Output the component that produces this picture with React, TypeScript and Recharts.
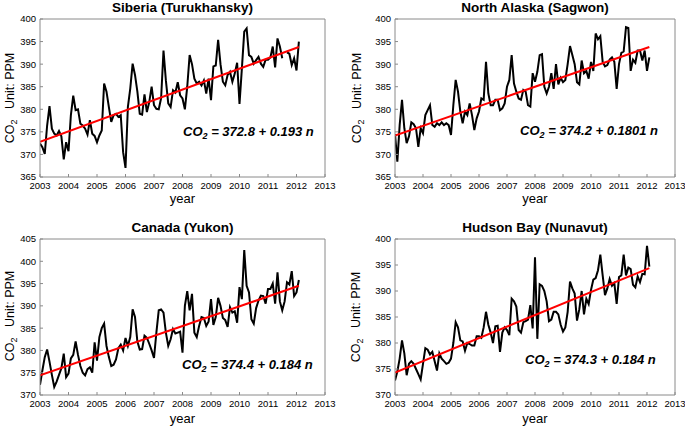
import React from 'react';
import { LineChart, Line, XAxis, YAxis } from 'recharts';

// monthly CO2 (ppm), Jan 2003 .. Feb 2012
const startYear = 2003;
const yearTicks = [2003, 2004, 2005, 2006, 2007, 2008, 2009, 2010, 2011, 2012, 2013];

const siberiaCO2 = [
  372.4, 371.6, 370.1, 376.4, 380.7, 375.7, 374.6, 374.2, 375.2, 374.0, 368.9, 372.7,
  370.7, 378.7, 383.0, 379.8, 380.0, 376.8, 376.4, 375.7, 374.4, 377.6, 374.6, 374.1,
  372.7, 374.2, 375.3, 385.7, 383.9, 380.5, 377.2, 378.7, 379.0, 378.3, 378.7, 370.5,
  367.0, 380.5, 384.6, 390.1, 387.6, 383.9, 379.0, 378.8, 383.3, 379.4, 381.6, 385.0,
  380.9, 380.1, 380.0, 382.5, 393.0, 386.4, 381.3, 380.5, 384.2, 383.7, 386.0, 383.1,
  382.4, 380.0, 385.0, 392.0, 390.0, 386.8, 385.7, 386.1, 385.3, 386.4, 383.5, 386.8,
  382.0, 389.5, 389.7, 395.4, 390.0, 386.1, 385.3, 387.6, 388.3, 386.1, 387.9, 390.3,
  381.2, 389.0, 397.2, 397.9, 392.0, 391.6, 390.1, 390.9, 391.6, 390.1, 389.4, 391.0,
  391.0, 391.5, 393.9, 389.3, 395.7, 393.9, 391.3, null, 392.6, 392.3, 389.8, 391.3,
  388.6, 395.0,
];

const alaskaCO2 = [
  374.5, 368.4, 376.5, 382.1, 375.8, 372.5, 374.0, 377.1, 376.7, 375.8, 371.7, 375.8,
  374.7, 378.7, 379.8, 380.9, 376.5, 376.1, 376.9, 376.5, 377.1, 376.5, 376.9, 376.5,
  374.3, 380.9, 386.5, 383.9, 379.5, 376.9, 379.5, 378.7, 381.3, 378.7, 375.4, 378.0,
  379.5, 382.4, 382.1, 390.5, 383.5, 380.9, 380.9, 382.1, 382.1, 379.8, 380.2, 381.3,
  385.0, 386.5, 392.0, 385.7, 383.9, 382.4, 382.1, 384.3, 383.9, 380.9, 380.6, 388.0,
  386.1, 388.3, 392.0, 392.2, 385.0, 383.5, 385.0, 388.0, 384.5, 390.0, 385.5, 387.0,
  386.0, 386.5, 390.0, 394.0, 392.0, 390.0, 386.0, 385.5, 390.8, 388.0, 388.5, 386.8,
  390.5, 388.5, 396.8, 395.5, 396.2, 390.5, 389.5, 389.8, 391.0, 391.5, 390.5, 384.5,
  390.0, 392.5, 392.8, 398.2, 398.0, 388.5, 391.0, 390.3, 393.0, 393.0, 390.8, 393.0,
  388.5, 391.5,
];

const canadaCO2 = [
  372.3, 375.5, 378.5, 380.2, 377.5, 374.5, 371.8, 373.0, 374.5, 376.0, 379.3, 374.0,
  374.8, 378.2, 379.0, 382.0, 379.0, 376.5, 375.0, 374.4, 375.8, 376.2, 375.0, 381.8,
  377.7, 383.0, 385.0, 386.0, 381.0, 378.5, 376.5, 376.8, 378.0, 380.5, 381.3, 380.0,
  382.8, 381.0, 383.0, 389.2, 387.5, 382.0, 380.2, 380.3, 383.3, 382.8, 381.5, 380.0,
  378.3, 384.0, 389.0, 389.2, 388.5, 384.0, 381.0, 382.5, 384.8, 383.8, 384.0, 384.2,
  379.5, 390.0, 393.3, 389.0, 392.7, 384.0, 383.0, 385.5, 387.5, 387.3, 385.5, 386.5,
  391.5, 385.7, 387.5, 391.8, 390.0, 387.3, 386.8, 385.3, 389.7, 388.5, 388.8, 386.2,
  394.2, 391.5, 402.5, 394.5, 393.0, 387.0, 386.0, 389.5, 391.2, 392.3, 392.2, 390.5,
  393.8, 393.8, 395.0, 390.5, 397.5, 391.0, 389.0, 391.0, 395.3, 394.8, 397.8, 392.2,
  393.0, 395.8,
];

const hudsonCO2 = [
  372.8, 374.5, 377.0, 380.5, 378.0, 373.8, 376.0, 376.5, 376.0, 375.0, 374.0, 373.0,
  376.0, 379.0, 378.7, 377.8, 378.3, 376.5, 374.7, 378.0, 377.0, 376.5, 376.0, 376.2,
  377.0, 380.0, 384.0, 383.0, 380.5, 380.3, 378.5, 380.0, 379.8, 379.5, 379.5, 381.3,
  381.3, 381.0, 383.0, 386.0, 383.5, 382.0, 380.0, 383.2, 383.3, 378.3, 382.0, 383.0,
  382.5, 381.5, 388.5, 388.0, 387.0, 382.5, 382.0, 384.0, 384.2, 384.5, 387.3, 382.8,
  396.5, 380.8, 391.3, 391.0, 390.0, 388.0, 384.2, 384.5, 386.0, 386.0, 385.5, 383.5,
  382.2, 383.0, 386.0, 391.8, 390.5, 389.5, 384.3, 386.5, 390.0, 385.5, 388.5, 387.5,
  390.2, 392.2, 392.5, 394.0, 397.0, 393.0, 389.2, 390.5, 392.3, 391.0, 391.5, 387.5,
  392.7, 393.0, 397.0, 393.0, 394.5, 394.2, 391.2, 390.7, 392.8, 391.7, 393.3, 393.2,
  398.7, 394.7,
];

// fitted trend, first and last month
const siberiaTrend = [372.8, 393.8];
const alaskaTrend = [374.2, 393.8];
const canadaTrend = [374.4, 394.5];
const hudsonTrend = [374.3, 394.4];

const ticks365 = [365, 370, 375, 380, 385, 390, 395, 400];
const ticks370to405 = [370, 375, 380, 385, 390, 395, 400, 405];
const ticks370to400 = [370, 375, 380, 385, 390, 395, 400];

const FONT = '"Liberation Sans", Arial, Helvetica, sans-serif';
const BOX = '#8a8a8a';

const toRows = (vals: (number | null)[]) =>
  vals.map((v, i) => ({ t: startYear + i / 12, co2: v }));

const toTrend = (vals: (number | null)[], tr: number[]) => [
  { t: startYear, v: tr[0] },
  { t: startYear + (vals.length - 1) / 12, v: tr[1] },
];

type PanelCfg = {
  x0: number; y0: number; w: number; h: number;
  L: number; R: number; T: number; B: number;
  title: string; titleTop: number;
  values: (number | null)[]; trend: number[];
  yTicks: number[];
  eq: string; eqLeft: number; eqTop: number;
  ylabX: number; ylabY: number;
  xlabTop: number;
};

function Panel(p: PanelCfg) {
  const rows = toRows(p.values);
  const trendRows = toTrend(p.values, p.trend);
  const cx = (p.L + p.R) / 2;
  const yDomain = [p.yTicks[0], p.yTicks[p.yTicks.length - 1]];
  return (
    <>
      <div style={{ position: 'absolute', left: p.x0, top: p.y0 }}>
        <LineChart
          width={p.w}
          height={p.h}
          data={rows}
          margin={{ top: p.T - p.y0 - 1, right: p.x0 + p.w - p.R - 1, left: 0, bottom: 0 }}
        >
          <XAxis
            dataKey="t"
            type="number"
            domain={[2003, 2013]}
            ticks={yearTicks}
            interval={0}
            allowDataOverflow
            height={p.y0 + p.h - p.B}
            tickSize={-3}
            tickMargin={8}
            stroke={BOX}
            tick={{ fill: '#000', fontSize: 9.5, fontFamily: FONT }}
          />
          <XAxis
            xAxisId="top"
            orientation="top"
            type="number"
            domain={[2003, 2013]}
            ticks={yearTicks}
            allowDataOverflow
            height={1}
            tickSize={-3}
            tick={false}
            stroke={BOX}
          />
          <YAxis
            type="number"
            domain={yDomain}
            ticks={p.yTicks}
            interval={0}
            allowDataOverflow
            width={p.L - p.x0}
            tickSize={-3}
            tickMargin={7}
            stroke={BOX}
            tick={{ fill: '#000', fontSize: 9.5, fontFamily: FONT }}
          />
          <YAxis
            yAxisId="right"
            orientation="right"
            type="number"
            domain={yDomain}
            ticks={p.yTicks}
            allowDataOverflow
            width={1}
            tickSize={-3}
            tick={false}
            stroke={BOX}
          />
          <Line
            dataKey="co2"
            stroke="#000"
            strokeWidth={2}
            dot={false}
            isAnimationActive={false}
          />
          <Line
            data={trendRows}
            dataKey="v"
            stroke="#ff0000"
            strokeWidth={2}
            dot={false}
            isAnimationActive={false}
          />
        </LineChart>
      </div>
      <div
        style={{
          position: 'absolute', left: cx - 120, width: 240, top: p.titleTop,
          textAlign: 'center', fontFamily: FONT, fontWeight: 'bold', fontSize: 13.5,
          lineHeight: '13.5px', color: '#000', whiteSpace: 'nowrap',
        }}
      >
        {p.title}
      </div>
      <div
        style={{
          position: 'absolute', left: p.ylabX, top: p.ylabY,
          transform: 'translate(-50%, -50%) rotate(-90deg)',
          fontFamily: FONT, fontSize: 12.5, lineHeight: '13px', color: '#000', whiteSpace: 'nowrap',
        }}
      >
        CO<sub style={{ fontSize: 9, verticalAlign: '-3px' }}>2</sub>&nbsp;&nbsp;&nbsp;Unit: PPM
      </div>
      <div
        style={{
          position: 'absolute', left: cx - 40, width: 80, top: p.xlabTop,
          textAlign: 'center', fontFamily: FONT, fontSize: 13, lineHeight: '13px', color: '#000',
        }}
      >
        year
      </div>
      <div
        style={{
          position: 'absolute', left: p.eqLeft, top: p.eqTop,
          fontFamily: FONT, fontWeight: 'bold', fontStyle: 'italic', fontSize: 13,
          lineHeight: '13px', color: '#000', whiteSpace: 'nowrap',
        }}
      >
        CO<sub style={{ fontSize: 9, verticalAlign: '-3px' }}>2</sub> = {p.eq}
      </div>
    </>
  );
}

const panels: PanelCfg[] = [
  {
    x0: 0, y0: 0, w: 342, h: 213, L: 40, R: 325, T: 19, B: 177,
    title: 'Siberia (Turukhansky)', titleTop: 1,
    values: siberiaCO2, trend: siberiaTrend, yTicks: ticks365,
    eq: '372.8 + 0.193 n', eqLeft: 183, eqTop: 125,
    ylabX: 12, ylabY: 98, xlabTop: 192,
  },
  {
    x0: 343, y0: 0, w: 342, h: 213, L: 395, R: 675, T: 19, B: 177,
    title: 'North Alaska (Sagwon)', titleTop: 1,
    values: alaskaCO2, trend: alaskaTrend, yTicks: ticks365,
    eq: '374.2 + 0.1801 n', eqLeft: 520, eqTop: 124,
    ylabX: 359, ylabY: 98, xlabTop: 192,
  },
  {
    x0: 0, y0: 218, w: 342, h: 209, L: 40, R: 325, T: 239, B: 395,
    title: 'Canada (Yukon)', titleTop: 220.5,
    values: canadaCO2, trend: canadaTrend, yTicks: ticks370to405,
    eq: '374.4 + 0.184 n', eqLeft: 182, eqTop: 357.5,
    ylabX: 12, ylabY: 316, xlabTop: 412,
  },
  {
    x0: 343, y0: 218, w: 342, h: 209, L: 395, R: 675, T: 239, B: 395,
    title: 'Hudson Bay (Nunavut)', titleTop: 221,
    values: hudsonCO2, trend: hudsonTrend, yTicks: ticks370to400,
    eq: '374.3 + 0.184 n', eqLeft: 525, eqTop: 352.5,
    ylabX: 358, ylabY: 317, xlabTop: 412,
  },
];

export default function App() {
  return (
    <div
      style={{
        position: 'absolute', left: 0, top: 0, width: 685, height: 427,
        background: '#fff', overflow: 'hidden',
      }}
    >
      {panels.map((p) => (
        <Panel key={p.title} {...p} />
      ))}
    </div>
  );
}
